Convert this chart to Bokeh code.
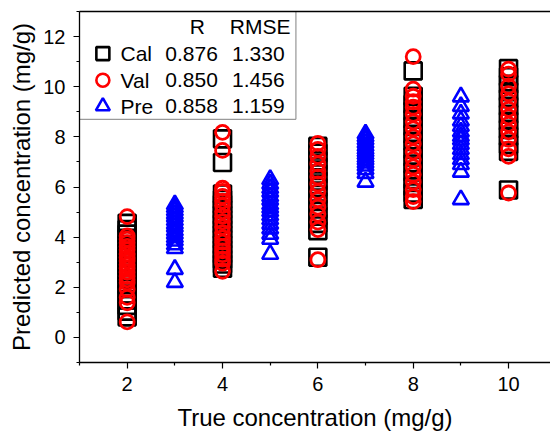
from bokeh.plotting import figure
from bokeh.models import FixedTicker, LinearAxis, Range1d
from bokeh.core.properties import value
from bokeh.embed import file_html
from bokeh.resources import INLINE

# ---- data ----
cal_x2 = [4.55, 4.3, 4.12, 3.95, 3.7, 3.55, 3.38, 3.2, 3.02, 2.85, 2.66, 2.5, 2.31, 2.1, 1.95, 1.72, 1.5, 1.28, 1.05, 0.82]
val_x2 = [4.82, 4.05, 3.92, 3.78, 3.63, 3.5, 3.34, 3.18, 3.05, 2.9, 2.76, 2.6, 2.44, 2.3, 2.18, 1.92, 1.6, 1.38, 0.62]
pre_x3 = [5.3, 5.18, 5.05, 4.92, 4.8, 4.66, 4.52, 4.4, 4.25, 4.12, 3.98, 3.85, 3.7, 3.55, 2.72, 2.2]
cal_x4 = [7.92, 6.98, 5.72, 5.5, 5.31, 5.1, 4.88, 4.7, 4.52, 4.3, 4.1, 3.92, 3.7, 3.5, 3.33, 3.12, 2.93, 2.76]
val_x4 = [8.18, 7.46, 5.95, 5.82, 5.63, 5.44, 5.26, 5.02, 4.83, 4.61, 4.4, 4.18, 3.98, 3.8, 3.62, 3.45, 3.3, 3.12, 2.96, 2.64]
pre_x5 = [6.3, 6.12, 5.95, 5.8, 5.62, 5.48, 5.3, 5.16, 5.02, 4.86, 4.7, 4.52, 4.33, 4.12, 3.92, 3.32]
cal_x6 = [7.62, 7.35, 7.05, 6.8, 6.52, 6.24, 5.98, 5.7, 5.42, 5.12, 4.84, 4.55, 4.26, 3.2]
val_x6 = [7.74, 7.5, 7.22, 6.92, 6.63, 6.4, 6.12, 5.82, 5.5, 5.2, 4.92, 4.6, 4.3, 3.1]
pre_x7 = [8.12, 8.0, 7.88, 7.75, 7.62, 7.5, 7.4, 7.3, 7.18, 7.08, 6.96, 6.84, 6.7, 6.55, 6.2]
cal_x8 = [10.63, 9.62, 9.3, 9.02, 8.7, 8.42, 8.1, 7.82, 7.5, 7.2, 6.92, 6.6, 6.3, 6.02, 5.76, 5.5]
val_x8 = [11.2, 9.9, 9.62, 9.4, 9.18, 8.9, 8.6, 8.32, 8.0, 7.72, 7.4, 7.1, 6.8, 6.5, 6.2, 5.9, 5.62, 5.42]
pre_x9 = [9.6, 9.22, 8.92, 8.64, 8.42, 8.2, 8.02, 7.88, 7.7, 7.5, 7.3, 7.1, 6.9, 6.6, 5.5]
cal_x10 = [10.72, 10.4, 10.1, 9.8, 9.52, 9.22, 8.9, 8.62, 8.3, 8.02, 7.7, 7.42, 5.88]
val_x10 = [10.7, 10.5, 10.02, 9.72, 9.42, 9.1, 8.8, 8.5, 8.2, 7.9, 7.52, 7.22, 5.76]

cal_groups = {2: cal_x2, 4: cal_x4, 6: cal_x6, 8: cal_x8, 10: cal_x10}
val_groups = {2: val_x2, 4: val_x4, 6: val_x6, 8: val_x8, 10: val_x10}
pre_groups = {3: pre_x3, 5: pre_x5, 7: pre_x7, 9: pre_x9}

series_names = ["Cal", "Val", "Pre"]
r_values = ["0.876", "0.850", "0.858"]
rmse_values = ["1.330", "1.456", "1.159"]

x_ticks = [2, 4, 6, 8, 10]
y_ticks = [0, 2, 4, 6, 8, 10, 12]

FONT = value("Liberation Sans")


def flatten(groups):
    xs, ys = [], []
    for k, vals in groups.items():
        xs += [k] * len(vals)
        ys += vals
    return xs, ys


p = figure(width=550, height=433, output_backend="svg", toolbar_location=None,
           x_range=Range1d(1, 10.88), y_range=Range1d(-1, 13),
           min_border_left=79, min_border_right=0, min_border_top=11, min_border_bottom=70)
p.outline_line_color = None
p.xgrid.visible = False
p.ygrid.visible = False
p.background_fill_color = "white"
p.border_fill_color = "white"

for ax, ticks, minor in ((p.xaxis[0], x_ticks, [1, 3, 5, 7, 9, 11]),
                         (p.yaxis[0], y_ticks, [-1, 1, 3, 5, 7, 9, 11, 13])):
    ax.ticker = FixedTicker(ticks=ticks, minor_ticks=minor)
    ax.major_tick_in = 0
    ax.major_tick_out = 6
    ax.minor_tick_in = 0
    ax.minor_tick_out = 3
    ax.major_label_text_font = "Liberation Sans"
    ax.major_label_text_font_size = "20px"
    ax.major_label_text_color = "black"
    ax.axis_label_text_font = "Liberation Sans"
    ax.axis_label_text_font_size = "24px"
    ax.axis_label_text_font_style = "normal"
    ax.axis_label_text_color = "black"
    ax.axis_line_width = 1.3
    ax.major_tick_line_width = 1.2
    ax.minor_tick_line_width = 1.2

p.xaxis.axis_label = "True concentration (mg/g)"
p.yaxis.axis_label = "Predicted concentration (mg/g)"
p.xaxis.major_label_standoff = 8
p.xaxis.axis_label_standoff = 10
p.yaxis.major_label_standoff = 8
p.yaxis.axis_label_standoff = 5

top = LinearAxis(ticker=FixedTicker(ticks=[]), major_label_text_font_size="0px",
                 major_tick_out=0, major_tick_in=0, minor_tick_out=0, minor_tick_in=0,
                 major_label_standoff=0, axis_line_width=1.3)
p.add_layout(top, "above")

cx, cy = flatten(cal_groups)
vx, vy = flatten(val_groups)
px_, py_ = flatten(pre_groups)

p.scatter(cx, cy, marker="square", size=17, fill_color=None, line_color="black", line_width=2.6)
p.scatter(vx, vy, marker="circle", size=14, fill_color=None, line_color="red", line_width=2.8)
p.scatter(px_, py_, marker="triangle", size=16, fill_color=None, line_color="blue", line_width=2.6)

# ---- table-style legend ----
p.quad(left=[1.0], right=[5.54], bottom=[8.7], top=[13.0], fill_color="white",
       line_color="#808080", line_width=1)
row_y = [11.32, 10.26, 9.22]
markers = ["square", "circle", "triangle"]
colors = ["black", "red", "blue"]
msizes = [13, 13, 14]
for yy, mk, col, ms in zip(row_y, markers, colors, msizes):
    p.scatter([1.49], [yy], marker=mk, size=ms, fill_color=None, line_color=col, line_width=2.6)
p.text(x=[1.86] * 3, y=row_y, text=series_names, text_font=FONT, text_font_size="21px",
       text_baseline="middle", text_align="left", text_color="black")
p.text(x=[2.8] * 3, y=row_y, text=r_values, text_font=FONT, text_font_size="21px",
       text_baseline="middle", text_align="left", text_color="black")
p.text(x=[4.2] * 3, y=row_y, text=rmse_values, text_font=FONT, text_font_size="21px",
       text_baseline="middle", text_align="left", text_color="black")
p.text(x=[3.47, 4.79], y=[12.41, 12.41], text=["R", "RMSE"], text_font=FONT, text_font_size="21px",
       text_baseline="middle", text_align="center", text_color="black")

open("out.html", "w").write(file_html(p, INLINE))
